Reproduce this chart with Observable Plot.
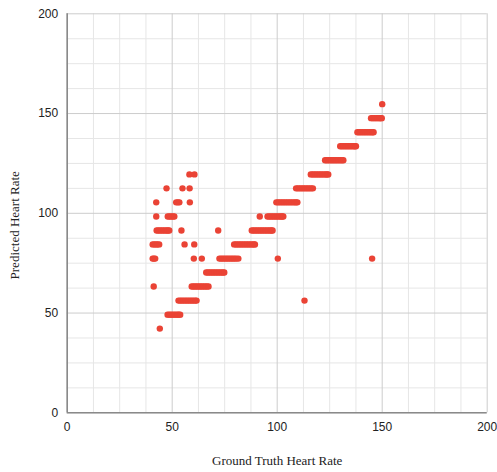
<!DOCTYPE html>
<html>
<head>
<meta charset="utf-8">
<script src="https://cdn.jsdelivr.net/npm/d3@7"></script>
<script src="https://cdn.jsdelivr.net/npm/@observablehq/plot@0.6"></script>
<style>
  html, body { margin: 0; padding: 0; background: #fff; }
  #chart svg { display: block; }
</style>
</head>
<body>
<div id="chart"></div>
<script>
// Predicted heart-rate levels (quantized predictions)
const predictedLevels = [42.2, 49.2, 56.25, 63.3, 70.3, 77.3, 84.4, 91.4, 98.4, 105.5, 112.5, 119.5, 126.6, 133.6, 140.6, 147.7, 154.7];

const truth42 = [44.1];
const truth49 = [47.8, 48.6, 49.4, 50.2, 51.0, 51.8, 52.6, 53.2, 53.8];
const truth56 = [53.0, 53.8, 54.6, 55.4, 56.2, 57.0, 57.8, 58.6, 59.4, 60.2, 61.0, 61.6, 113.0];
const truth63 = [41.2, 59.3, 60.1, 60.9, 61.7, 62.5, 63.3, 64.1, 64.9, 65.7, 66.5, 67.3];
const truth70 = [66.2, 67.0, 67.8, 68.6, 69.4, 70.2, 71.0, 71.8, 72.6, 73.4, 74.2, 74.8];
const truth77 = [40.7, 41.3, 41.9, 60.3, 64.1, 72.5, 73.3, 74.1, 74.9, 75.7, 76.5, 77.3, 78.1, 78.9, 79.7, 80.5, 81.5, 100.3, 145.2];
const truth84 = [40.7, 41.5, 42.3, 43.0, 43.8, 55.9, 60.5, 79.5, 80.3, 81.1, 81.9, 82.7, 83.5, 84.3, 85.1, 85.9, 86.7, 87.5, 88.3, 89.0, 89.4];
const truth91 = [42.6, 43.4, 44.2, 45.0, 45.8, 46.6, 47.4, 48.0, 48.6, 54.4, 71.9, 87.9, 88.7, 89.5, 90.3, 91.1, 91.9, 92.7, 93.5, 94.3, 95.1, 95.9, 96.7, 97.3, 97.8];
const truth98 = [42.4, 47.9, 48.7, 49.5, 50.3, 51.0, 91.7, 95.4, 96.2, 97.0, 97.8, 98.6, 99.4, 100.2, 101.0, 101.8, 102.4, 102.9];
const truth105 = [42.4, 51.9, 52.7, 53.4, 58.4, 99.6, 100.4, 101.2, 102.0, 102.8, 103.6, 104.4, 105.2, 106.0, 106.8, 107.6, 108.4, 109.0, 109.6];
const truth112 = [47.3, 54.9, 58.3, 109.0, 109.8, 110.6, 111.4, 112.2, 113.0, 113.8, 114.6, 115.4, 116.2, 117.0];
const truth119 = [58.2, 60.6, 116.0, 116.8, 117.6, 118.4, 119.2, 120.0, 120.8, 121.6, 122.4, 123.2, 123.8, 124.3];
const truth126 = [122.8, 123.6, 124.4, 125.2, 126.0, 126.8, 127.6, 128.4, 129.2, 130.0, 130.8, 131.5];
const truth133 = [130.0, 130.8, 131.6, 132.4, 133.2, 134.0, 134.8, 135.6, 136.4, 137.0, 137.5];
const truth140 = [138.2, 139.0, 139.8, 140.6, 141.4, 142.2, 143.0, 143.8, 144.6, 145.3, 145.9];
const truth147 = [144.7, 145.5, 146.3, 147.1, 147.9, 148.7, 149.3, 149.8];
const truth154 = [150.0];

const truthByLevel = [truth42, truth49, truth56, truth63, truth70, truth77, truth84, truth91, truth98, truth105, truth112, truth119, truth126, truth133, truth140, truth147, truth154];

// Axis ticks and grid
const majorTicks = [0, 50, 100, 150, 200];
const minorTicks = [12.5, 25, 37.5, 62.5, 75, 87.5, 112.5, 125, 137.5, 162.5, 175, 187.5];
const xTitle = "Ground Truth Heart Rate";
const yTitle = "Predicted Heart Rate";

const points = [];
predictedLevels.forEach((level, i) => {
  truthByLevel[i].forEach(t => points.push({truth: t, predicted: level}));
});

const chart = Plot.plot({
  width: 497,
  height: 472,
  marginLeft: 66.7,
  marginRight: 10.3,
  marginTop: 13.3,
  marginBottom: 59.7,
  style: {background: "#fff", overflow: "visible"},
  x: {domain: [0, 200]},
  y: {domain: [0, 200]},
  marks: [
    Plot.ruleX(minorTicks, {stroke: "#e6e6e6", strokeWidth: 1}),
    Plot.ruleY(minorTicks, {stroke: "#e6e6e6", strokeWidth: 1}),
    Plot.ruleX(majorTicks, {stroke: "#cccccc", strokeWidth: 1}),
    Plot.ruleY(majorTicks, {stroke: "#cccccc", strokeWidth: 1}),
    Plot.ruleX([0], {stroke: "#8a8a8a", strokeWidth: 1.6}),
    Plot.ruleY([0], {stroke: "#8a8a8a", strokeWidth: 1.6}),
    Plot.axisX(majorTicks, {tickSize: 0, tickPadding: 10, label: null, fontSize: 12, fontFamily: "Liberation Sans, Arial, sans-serif", fill: "#222"}),
    Plot.axisY(majorTicks, {tickSize: 0, tickPadding: 9, label: null, fontSize: 12, fontFamily: "Liberation Sans, Arial, sans-serif", fill: "#222"}),
    Plot.dot(points, {x: "truth", y: "predicted", r: 3.2, fill: "#ea4335", stroke: null}),
    Plot.text([xTitle], {frameAnchor: "bottom", textAnchor: "middle", lineAnchor: "middle", dy: 48, fontSize: 13, fontFamily: "Liberation Serif, Times New Roman, serif", fill: "#222"}),
    Plot.text([yTitle], {frameAnchor: "left", textAnchor: "middle", lineAnchor: "middle", dx: -52, dy: 12, rotate: -90, fontSize: 13, fontFamily: "Liberation Serif, Times New Roman, serif", fill: "#222"})
  ]
});

document.getElementById("chart").appendChild(chart);
</script>
</body>
</html>
